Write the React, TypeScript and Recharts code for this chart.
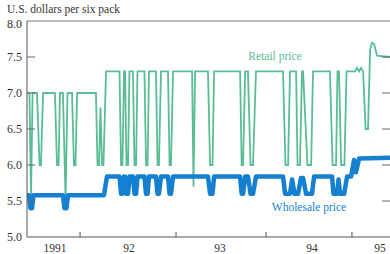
import { LineChart, Line, XAxis, YAxis, ReferenceLine } from 'recharts'

// weeks since the start of the series (mid 1991)
const retailWeeks = [
  0, 1.4, 2.3, 3.2,
  5.7, 7.2, 8.0, 9.2,
  16.0, 17.2, 18.1, 18.9,
  20.6, 22.1, 23.2,
  25.8, 26.9, 27.8, 28.7,
  39.5, 40.4, 41.3, 42.1, 43.0, 43.8, 45.3,
  53.0, 53.9, 54.7, 55.6,
  56.2, 57.0, 57.9, 58.7,
  60.7, 61.6, 62.5, 63.3,
  67.3, 68.2, 69.1, 69.9,
  73.9, 74.8, 75.6, 76.8,
  80.8, 81.7, 82.5, 83.7,
  94.6, 95.4, 96.3,
  103.7, 104.9, 106.3, 107.2,
  122.1, 123.0, 123.8, 125.0,
  126.6, 128.1, 129.5, 131.2,
  146.7, 148.1, 149.6, 150.7,
  154.2, 155.0, 156.4, 157.6,
  158.2, 160.7, 162.8, 163.9,
  173.6, 175.1, 177.1, 177.9,
  178.8, 180.0, 181.9, 183.1,
  188.0, 189.1, 190.3, 191.4, 192.6,
  194.0, 195.4,
  196.6, 197.7, 198.9, 200.6, 208,
]
const retailPrices = [
  7.0, 7.0, 5.55, 7.0,
  7.0, 6.0, 6.0, 7.0,
  7.0, 6.0, 6.0, 7.0,
  7.0, 5.5, 7.0,
  7.0, 6.0, 6.0, 7.0,
  7.0, 6.0, 6.0, 6.8, 6.0, 6.0, 7.3,
  7.3, 6.0, 6.0, 7.3,
  7.3, 6.0, 6.0, 7.3,
  7.3, 6.0, 6.0, 7.3,
  7.3, 6.0, 6.0, 7.3,
  7.3, 6.0, 6.0, 7.3,
  7.3, 6.0, 6.0, 7.3,
  7.3, 5.7, 7.3,
  7.3, 6.0, 6.0, 7.3,
  7.3, 6.0, 6.0, 7.3,
  7.3, 6.0, 6.0, 7.3,
  7.3, 6.0, 6.0, 7.3,
  7.3, 6.0, 6.0, 7.3,
  7.3, 6.0, 6.0, 7.3,
  7.3, 6.0, 6.0, 7.3,
  7.3, 6.0, 6.0, 7.3,
  7.3, 7.35, 7.3, 7.35, 7.3,
  6.5, 6.5,
  7.6, 7.7, 7.68, 7.52, 7.5,
]

const wholesaleWeeks = [
  0, 1.1, 2.0, 2.9, 3.7,
  20.6, 21.5, 22.6, 23.5,
  44.1, 45.8,
  53.0, 53.9, 54.7, 55.6,
  56.2, 57.0, 57.9, 58.7,
  60.7, 61.6, 62.5, 63.3,
  67.3, 68.2, 69.1, 69.9,
  73.9, 74.8, 75.6, 76.8,
  80.8, 81.7, 82.5, 83.7,
  103.7, 104.9, 106.3, 107.2,
  122.1, 123.0, 123.8, 125.0,
  126.6, 128.1, 129.5, 131.2,
  146.7, 147.9, 150.7, 151.9, 153.3, 155.3, 157.0, 158.2, 159.9, 163.3, 164.5,
  174.8, 175.6, 177.7, 178.5, 179.4, 181.7, 183.4,
  185.7, 187.4, 188.5, 190.3, 208,
]
const wholesalePrices = [
  5.58, 5.58, 5.4, 5.4, 5.58,
  5.58, 5.4, 5.4, 5.58,
  5.58, 5.84,
  5.84, 5.6, 5.6, 5.84,
  5.84, 5.6, 5.6, 5.84,
  5.84, 5.6, 5.6, 5.84,
  5.84, 5.6, 5.6, 5.84,
  5.84, 5.6, 5.6, 5.84,
  5.84, 5.6, 5.6, 5.84,
  5.84, 5.6, 5.6, 5.84,
  5.84, 5.6, 5.6, 5.84,
  5.84, 5.6, 5.6, 5.84,
  5.84, 5.6, 5.6, 5.8, 5.6, 5.6, 5.82, 5.82, 5.6, 5.6, 5.84,
  5.84, 5.6, 5.6, 5.8, 5.6, 5.6, 5.84,
  5.84, 6.07, 5.9, 6.09, 6.1,
]

const yearBreaks = [30.4, 85.4, 137.0, 186.2]
const yearLabelWeeks = [16.0, 58.5, 110.6, 163.3, 202.3]
const yearLabels = ['1991', '92', '93', '94', '95']
const priceTicks = [5.0, 5.5, 6.0, 6.5, 7.0, 7.5, 8.0]
const innerTicks = [5.5, 6.0, 6.5, 7.0, 7.5]

const retailData = retailWeeks.map((w, i) => ({ w, v: retailPrices[i] }))
const wholesaleData = wholesaleWeeks.map((w, i) => ({ w, v: wholesalePrices[i] }))
const xTicks = [...yearBreaks, ...yearLabelWeeks].sort((a, b) => a - b)

const W = 390
const H = 254
const GREEN = '#5bbd95'
const BLUE = '#1580d0'
const AXIS = '#555'
const TEXT = '#333'
const FONT = '"Liberation Serif", "DejaVu Serif", serif'

function YTick({ x, y, payload }: any) {
  const v = payload.value
  const inner = innerTicks.includes(v)
  return (
    <g>
      <text x={x - 5} y={y + (v === 8 ? 7 : 4)} textAnchor='end' fill={TEXT} fontSize={12} fontFamily={FONT}>
        {v.toFixed(1)}
      </text>
      {inner && <line x1={x} x2={x + 8} y1={y} y2={y} stroke='#666' />}
      {inner && <line x1={W - 8} x2={W} y1={y} y2={y} stroke='#666' />}
    </g>
  )
}

function XTick({ x, y, payload }: any) {
  const v = payload.value
  const li = yearLabelWeeks.indexOf(v)
  if (li >= 0) {
    return (
      <text x={x} y={y + 15} textAnchor='middle' fill={TEXT} fontSize={11.5} fontFamily={FONT}>
        {yearLabels[li]}
      </text>
    )
  }
  return <line x1={x} x2={x} y1={y - 5} y2={y} stroke={AXIS} />
}

export default function App() {
  return (
    <div style={{ position: 'absolute', left: 0, top: 0, width: W, height: H, fontFamily: FONT }}>
      <div style={{ position: 'absolute', left: 7, top: 3, fontSize: 11.5, color: TEXT, whiteSpace: 'nowrap' }}>
        U.S. dollars per six pack
      </div>
      <div style={{ position: 'absolute', left: 275, top: 50, fontSize: 11.5, color: GREEN, whiteSpace: 'nowrap', transform: 'translateX(-50%)' }}>
        Retail price
      </div>
      <div style={{ position: 'absolute', left: 309, top: 201, fontSize: 11.5, color: BLUE, whiteSpace: 'nowrap', transform: 'translateX(-50%)' }}>
        Wholesale price
      </div>
      <LineChart width={W} height={H} margin={{ top: 21, right: 0, bottom: 0, left: 0 }}>
        <XAxis
          xAxisId='x'
          dataKey='w'
          type='number'
          domain={[0, 208]}
          ticks={xTicks}
          interval={0}
          height={17}
          tickSize={0}
          tickMargin={0}
          tickLine={false}
          axisLine={{ stroke: AXIS }}
          tick={XTick}
          allowDataOverflow
        />
        <YAxis
          yAxisId='l'
          domain={[5, 8]}
          ticks={priceTicks}
          interval={0}
          width={27}
          tickSize={0}
          tickMargin={0}
          tickLine={false}
          axisLine={{ stroke: AXIS }}
          tick={YTick}
        />
        <ReferenceLine xAxisId='x' yAxisId='l' y={8} stroke='#777' />
        <Line
          xAxisId='x'
          yAxisId='l'
          data={retailData}
          dataKey='v'
          type='linear'
          stroke={GREEN}
          strokeWidth={1.8}
          dot={false}
          isAnimationActive={false}
        />
        <Line
          xAxisId='x'
          yAxisId='l'
          data={wholesaleData}
          dataKey='v'
          type='linear'
          stroke={BLUE}
          strokeWidth={4.5}
          strokeLinejoin='round'
          dot={false}
          isAnimationActive={false}
        />
      </LineChart>
    </div>
  )
}
